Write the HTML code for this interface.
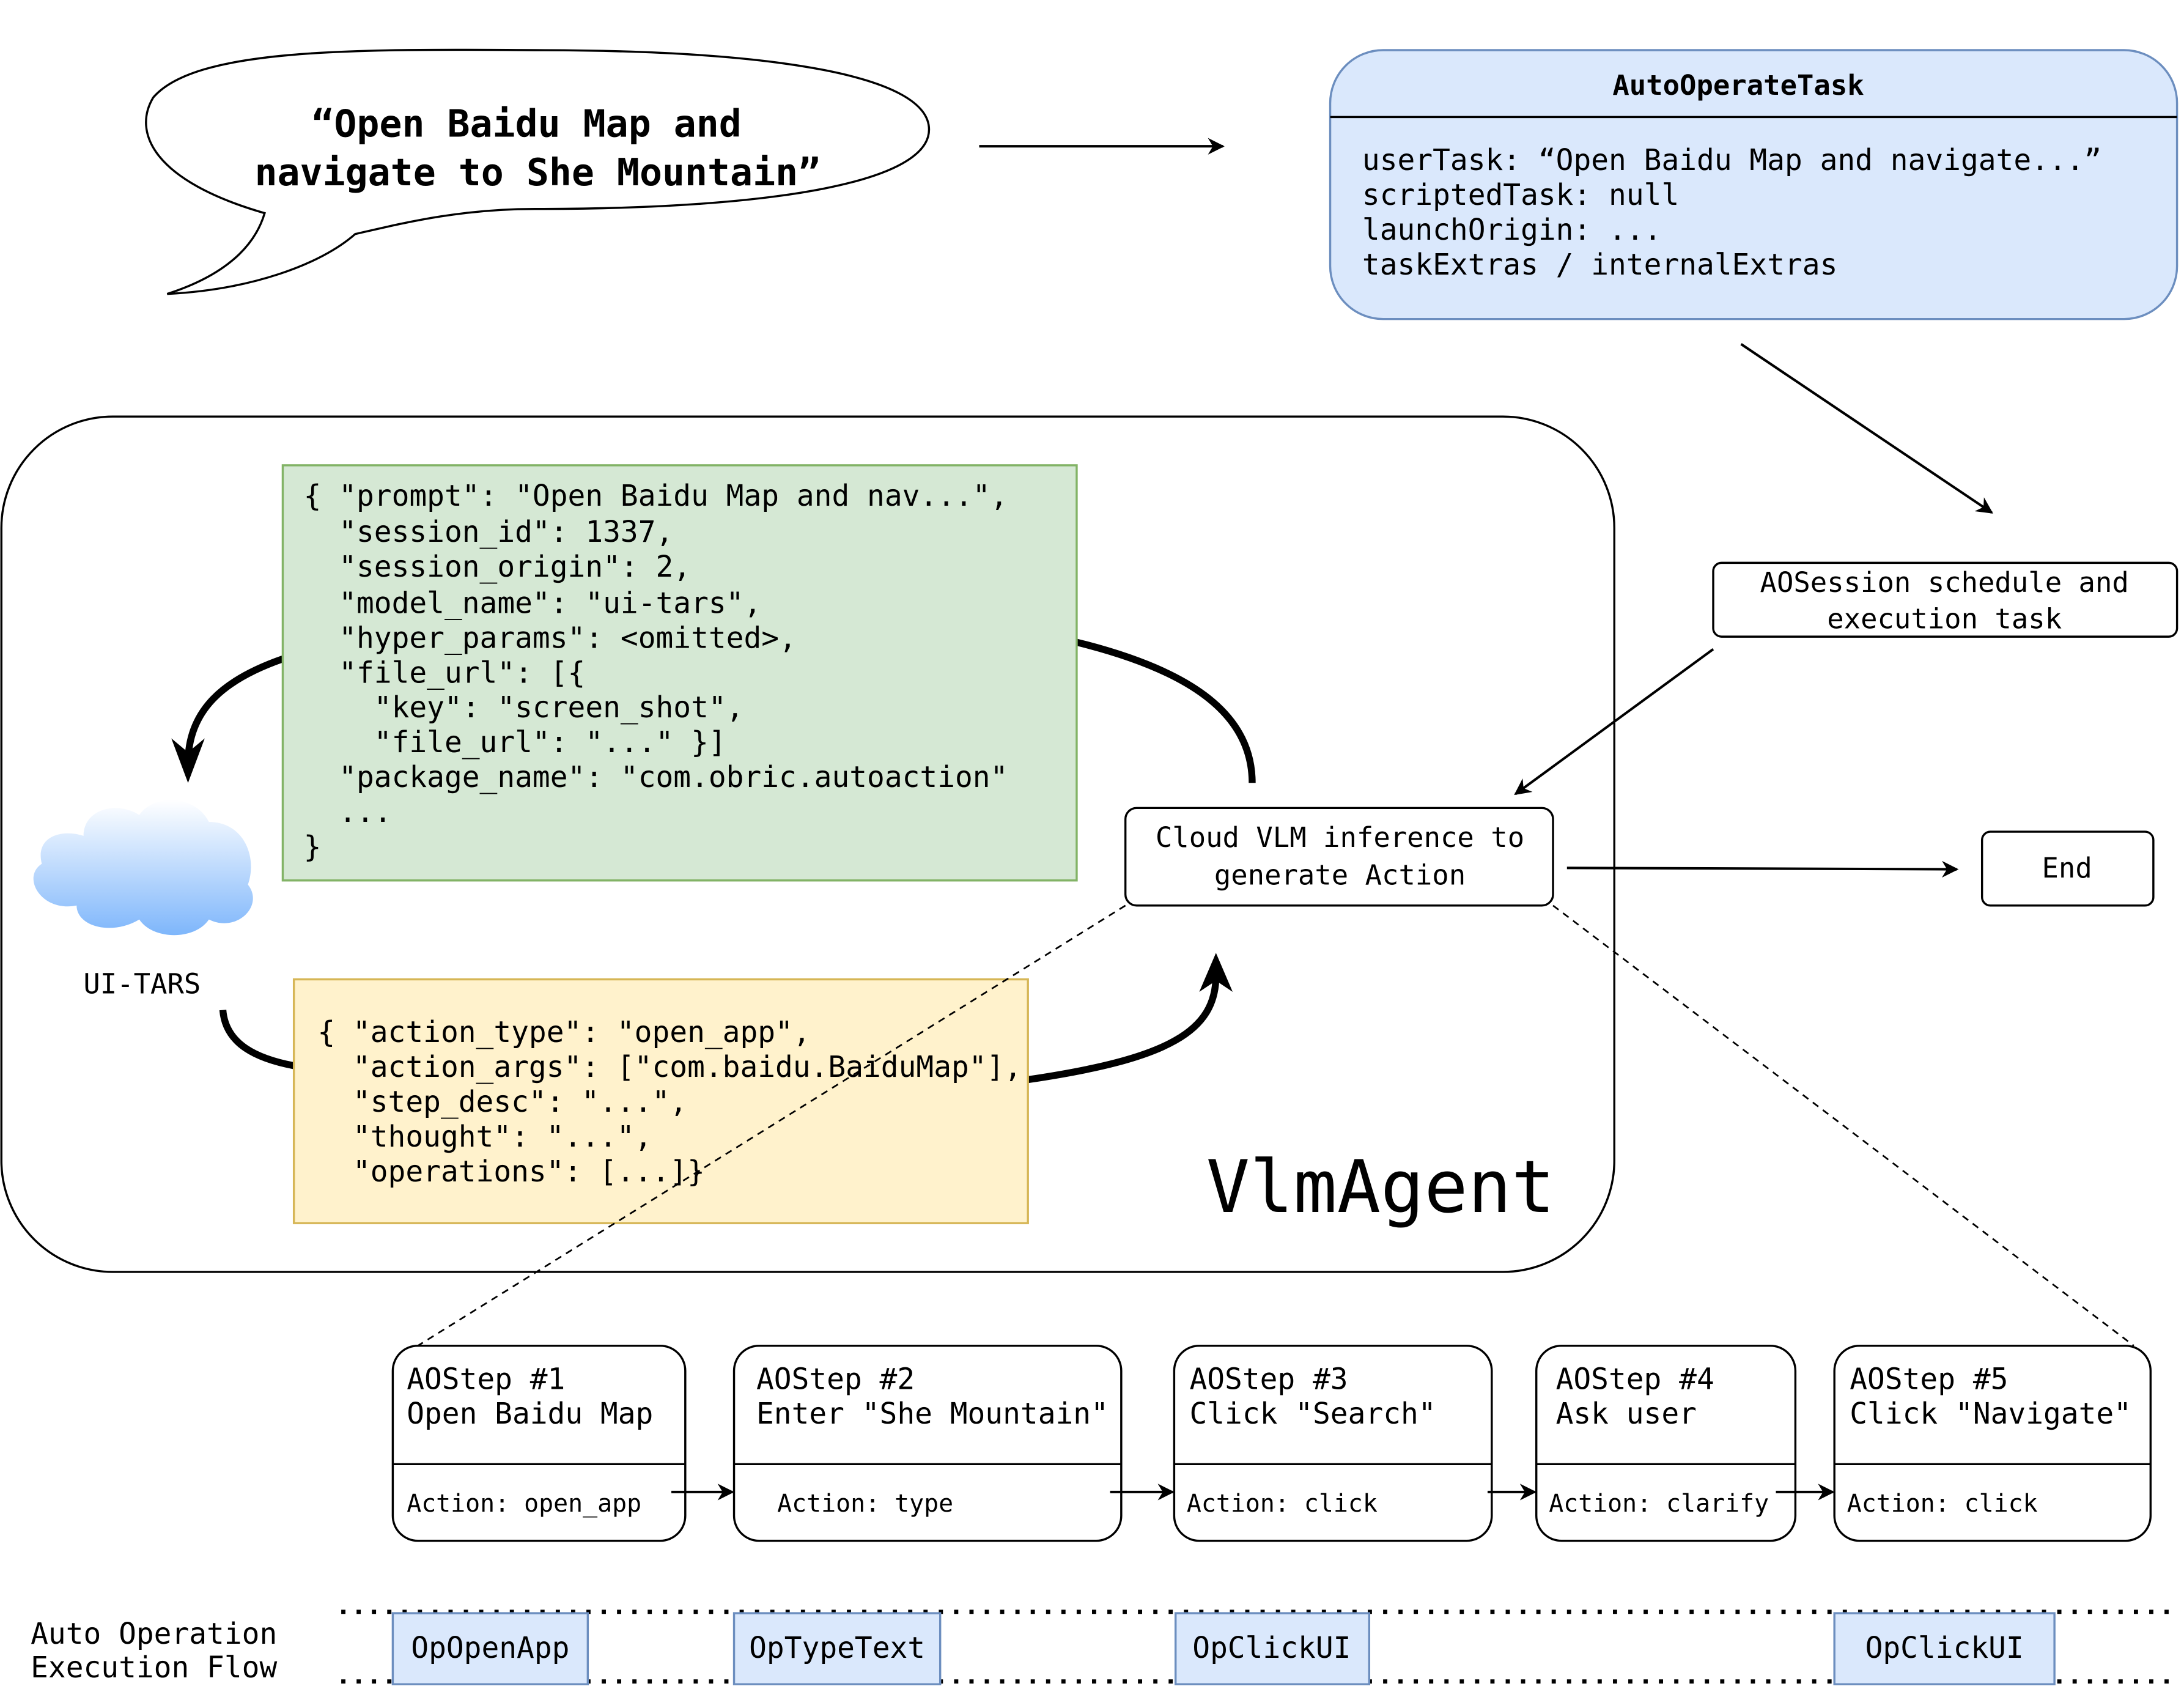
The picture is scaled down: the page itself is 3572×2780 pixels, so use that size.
<!DOCTYPE html>
<html><head><meta charset="utf-8"><style>
html,body{margin:0;padding:0;background:#fff;}
svg{display:block;}
text{font-family:"DejaVu Sans Mono","Liberation Mono",monospace;fill:#000;}
</style></head><body>
<svg width="3572" height="2780" viewBox="0 0 1568 1220.3" preserveAspectRatio="none" xmlns="http://www.w3.org/2000/svg">
<defs>
<marker id="a" viewBox="0 0 10 10" refX="9" refY="5" markerWidth="14" markerHeight="12" markerUnits="userSpaceOnUse" orient="auto"><path d="M0,0 L10,5 L0,10 L3,5 z" fill="#000"/></marker>
<linearGradient id="cg" x1="0" y1="0" x2="0" y2="1"><stop offset="0" stop-color="#ffffff"/><stop offset="1" stop-color="#7eb6fb"/></linearGradient>
</defs>
<rect width="1568" height="1220.3" fill="#fff"/>

<!-- speech bubble -->
<path d="M190,153 C110,130 95,95 110,70 C140,35 250,35 384,36 C560,36 667,55 667,93 C667,130 560,150 384,150 C330,150 290,160 255,168 C230,190 180,208 120,211 C170,195 185,170 190,153 Z" fill="#fff" stroke="#000" stroke-width="1.5"/>
<text x="378" y="98" font-size="27" font-weight="bold" text-anchor="middle">“Open Baidu Map and</text>
<text x="386" y="133" font-size="27" font-weight="bold" text-anchor="middle">navigate to She Mountain”</text>

<line x1="703" y1="105" x2="878" y2="105" stroke="#000" stroke-width="1.8" marker-end="url(#a)"/>

<!-- AutoOperateTask -->
<rect x="955" y="36" width="608" height="193" rx="38" fill="#dae8fc" stroke="#6c8ebf" stroke-width="1.5"/>
<line x1="955" y1="84" x2="1563" y2="84" stroke="#000" stroke-width="1.5"/>
<text x="1248" y="68" font-size="20" font-weight="bold" text-anchor="middle">AutoOperateTask</text>
<text x="978" y="122" font-size="21">userTask: “Open Baidu Map and navigate...”</text>
<text x="978" y="147" font-size="21">scriptedTask: null</text>
<text x="978" y="172" font-size="21">launchOrigin: ...</text>
<text x="978" y="197" font-size="21">taskExtras / internalExtras</text>

<line x1="1250" y1="247" x2="1430" y2="368" stroke="#000" stroke-width="1.8" marker-end="url(#a)"/>
<rect x="1230" y="404" width="333" height="53" rx="6" fill="#fff" stroke="#000" stroke-width="1.5"/>
<text x="1396" y="425" font-size="20" text-anchor="middle">AOSession schedule and</text>
<text x="1396" y="451" font-size="20" text-anchor="middle">execution task</text>

<!-- VlmAgent container -->
<rect x="1" y="299" width="1158" height="614" rx="80" fill="#fff" stroke="#000" stroke-width="1.5"/>
<text x="866" y="870" font-size="52">VlmAgent</text>

<line x1="1230" y1="466" x2="1088" y2="570" stroke="#000" stroke-width="1.8" marker-end="url(#a)"/>

<!-- curves -->
<path d="M203,473 C160,488 135,510 135,548" fill="none" stroke="#000" stroke-width="5"/>
<path d="M123,530 L135,562 L147,530 L135,540 Z" fill="#000"/>
<path d="M773,461 C850,480 899,510 899,562" fill="none" stroke="#000" stroke-width="5"/>
<path d="M160,725 C162,750 185,760 211,765" fill="none" stroke="#000" stroke-width="5"/>
<path d="M738,775 C840,760 873,740 873,700" fill="none" stroke="#000" stroke-width="5"/>
<path d="M861,712 L873,684 L885,712 L873,704 Z" fill="#000"/>

<!-- green box -->
<rect x="203" y="334" width="570" height="298" fill="#d5e8d4" stroke="#82b366" stroke-width="1.5"/>
<g font-size="21">
<text x="218" y="363" xml:space="preserve">{ "prompt": "Open Baidu Map and nav...",</text>
<text x="218" y="389" xml:space="preserve">  "session_id": 1337,</text>
<text x="218" y="414" xml:space="preserve">  "session_origin": 2,</text>
<text x="218" y="440" xml:space="preserve">  "model_name": "ui-tars",</text>
<text x="218" y="465" xml:space="preserve">  "hyper_params": &lt;omitted&gt;,</text>
<text x="218" y="490" xml:space="preserve">  "file_url": [{</text>
<text x="218" y="515" xml:space="preserve">    "key": "screen_shot",</text>
<text x="218" y="540" xml:space="preserve">    "file_url": "..." }]</text>
<text x="218" y="565" xml:space="preserve">  "package_name": "com.obric.autoaction"</text>
<text x="218" y="590" xml:space="preserve">  ...</text>
<text x="218" y="615" xml:space="preserve">}</text>
</g>

<!-- cloud -->
<path d="M60,600 C60,580 85,575 100,585 C110,570 140,570 150,590 C175,590 185,615 178,635 C190,650 170,670 150,660 C140,675 110,675 100,660 C80,672 55,665 55,650 C30,655 15,630 30,620 C25,600 45,595 60,600 Z" fill="url(#cg)"/>
<text x="102" y="713" font-size="20" text-anchor="middle">UI-TARS</text>

<!-- yellow box -->
<rect x="211" y="703" width="527" height="175" fill="#fff2cc" stroke="#d6b656" stroke-width="1.5"/>
<g font-size="21">
<text x="228" y="748" xml:space="preserve">{ "action_type": "open_app",</text>
<text x="228" y="773" xml:space="preserve">  "action_args": ["com.baidu.BaiduMap"],</text>
<text x="228" y="798" xml:space="preserve">  "step_desc": "...",</text>
<text x="228" y="823" xml:space="preserve">  "thought": "...",</text>
<text x="228" y="848" xml:space="preserve">  "operations": [...]}</text>
</g>

<!-- Cloud VLM -->
<rect x="808" y="580" width="307" height="70" rx="8" fill="#fff" stroke="#000" stroke-width="1.5"/>
<text x="962" y="608" font-size="20" text-anchor="middle">Cloud VLM inference to</text>
<text x="962" y="635" font-size="20" text-anchor="middle">generate Action</text>
<line x1="1125" y1="623" x2="1405" y2="624" stroke="#000" stroke-width="1.8" marker-end="url(#a)"/>
<rect x="1423" y="597" width="123" height="53" rx="6" fill="#fff" stroke="#000" stroke-width="1.5"/>
<text x="1484" y="630" font-size="20" text-anchor="middle">End</text>

<!-- dashed -->
<line x1="808" y1="650" x2="300" y2="966" stroke="#000" stroke-width="1.2" stroke-dasharray="5,4"/>
<line x1="1115" y1="650" x2="1532" y2="966" stroke="#000" stroke-width="1.2" stroke-dasharray="5,4"/>

<!-- steps -->
<g stroke="#000" stroke-width="1.5" fill="#fff">
<rect x="282" y="966" width="210" height="140" rx="18"/>
<rect x="527" y="966" width="278" height="140" rx="18"/>
<rect x="843" y="966" width="228" height="140" rx="18"/>
<rect x="1103" y="966" width="186" height="140" rx="18"/>
<rect x="1317" y="966" width="227" height="140" rx="18"/>
<line x1="282" y1="1051" x2="492" y2="1051"/>
<line x1="527" y1="1051" x2="805" y2="1051"/>
<line x1="843" y1="1051" x2="1071" y2="1051"/>
<line x1="1103" y1="1051" x2="1289" y2="1051"/>
<line x1="1317" y1="1051" x2="1544" y2="1051"/>
</g>
<g font-size="21">
<text x="292" y="997">AOStep #1</text><text x="292" y="1022">Open Baidu Map</text>
<text x="543" y="997">AOStep #2</text><text x="543" y="1022">Enter "She Mountain"</text>
<text x="854" y="997">AOStep #3</text><text x="854" y="1022">Click "Search"</text>
<text x="1117" y="997">AOStep #4</text><text x="1117" y="1022">Ask user</text>
<text x="1328" y="997">AOStep #5</text><text x="1328" y="1022">Click "Navigate"</text>
</g>
<g font-size="17.5">
<text x="292" y="1085">Action: open_app</text>
<text x="558" y="1085">Action: type</text>
<text x="852" y="1085">Action: click</text>
<text x="1112" y="1085">Action: clarify</text>
<text x="1326" y="1085">Action: click</text>
</g>
<g stroke="#000" stroke-width="1.8">
<line x1="482" y1="1071" x2="526" y2="1071" marker-end="url(#a)"/>
<line x1="797" y1="1071" x2="842" y2="1071" marker-end="url(#a)"/>
<line x1="1068" y1="1071" x2="1102" y2="1071" marker-end="url(#a)"/>
<line x1="1275" y1="1071" x2="1316" y2="1071" marker-end="url(#a)"/>
</g>

<!-- execution flow -->
<g stroke="#000" stroke-width="3" stroke-dasharray="3,8">
<line x1="245" y1="1157" x2="1562" y2="1157"/>
<line x1="245" y1="1207" x2="1562" y2="1207"/>
</g>
<g fill="#dae8fc" stroke="#6c8ebf" stroke-width="1.5">
<rect x="282" y="1158" width="140" height="51"/>
<rect x="527" y="1158" width="148" height="51"/>
<rect x="844" y="1158" width="139" height="51"/>
<rect x="1317" y="1158" width="158" height="51"/>
</g>
<g font-size="21" text-anchor="middle">
<text x="352" y="1190">OpOpenApp</text>
<text x="601" y="1190">OpTypeText</text>
<text x="913" y="1190">OpClickUI</text>
<text x="1396" y="1190">OpClickUI</text>
</g>
<text x="22" y="1180" font-size="21">Auto Operation</text>
<text x="22" y="1204" font-size="21">Execution Flow</text>
</svg>
</body></html>
